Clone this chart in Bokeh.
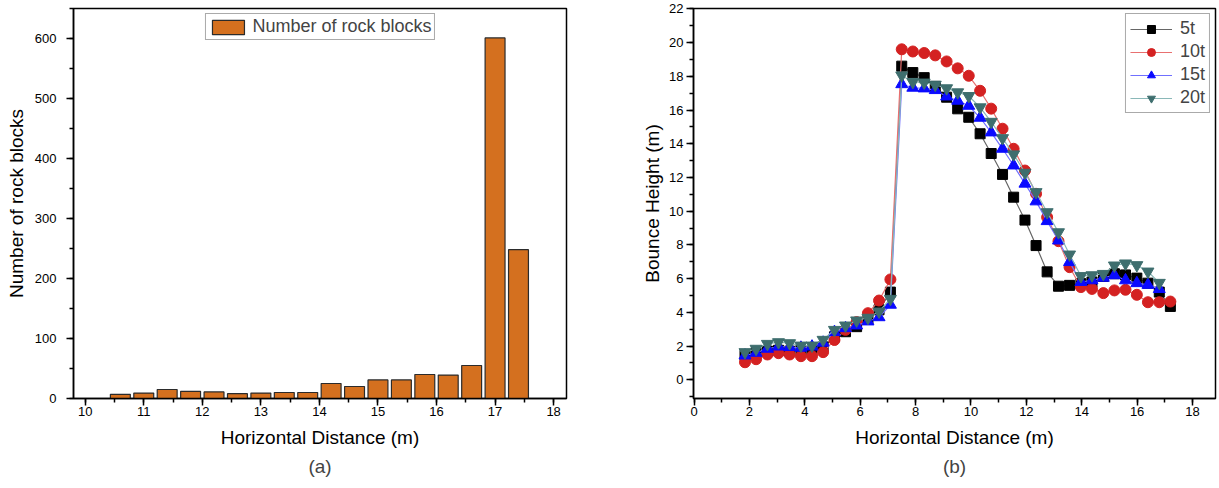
from bokeh.plotting import figure
from bokeh.layouts import row
from bokeh.models import SingleIntervalTicker, Title
from bokeh.embed import file_html
from bokeh.resources import INLINE

# ---- data (a) ----
bar_x = [10.6, 11.0, 11.4, 11.8, 12.2, 12.6, 13.0, 13.4, 13.8, 14.2, 14.6, 15.0,
         15.4, 15.8, 16.2, 16.6, 17.0, 17.4]
bar_counts = [7, 9, 15, 12, 11, 8, 9, 10, 10, 25, 20, 31, 31, 40, 39, 55, 601, 248]

# ---- data (b) ----
x_pos = [1.84, 2.24, 2.65, 3.05, 3.45, 3.86, 4.26, 4.66, 5.07, 5.47, 5.87, 6.28,
         6.68, 7.09, 7.5, 7.9, 8.31, 8.71, 9.12, 9.52, 9.92, 10.33, 10.73, 11.14,
         11.54, 11.95, 12.35, 12.75, 13.16, 13.56, 13.97, 14.37, 14.78, 15.18,
         15.58, 15.99, 16.39, 16.8, 17.2]
h_5t = [1.45, 1.6, 1.7, 1.75, 1.7, 1.75, 1.75, 1.95, 2.55, 2.85, 3.15, 3.6, 4.15, 5.2,
        18.6, 18.22, 17.92, 17.4, 16.76, 16.07, 15.57, 14.59, 13.42, 12.18, 10.83,
        9.47, 7.96, 6.4, 5.55, 5.6, 5.7, 5.8, 6.13, 6.29, 6.22, 6.03, 5.73, 5.2, 4.35]
h_10t = [1.04, 1.22, 1.5, 1.58, 1.5, 1.4, 1.4, 1.64, 2.36, 2.96, 3.42, 3.95, 4.7, 5.95,
         19.6, 19.47, 19.38, 19.24, 18.88, 18.47, 18.03, 17.14, 16.08, 14.89, 13.7,
         12.41, 11.03, 9.64, 8.22, 6.68, 5.5, 5.39, 5.14, 5.3, 5.34, 5.04, 4.6, 4.6, 4.64]
h_15t = [1.44, 1.6, 1.84, 1.97, 1.94, 1.9, 1.97, 2.2, 2.83, 3.06, 3.22, 3.46, 3.71, 4.45,
         17.53, 17.32, 17.28, 17.18, 16.8, 16.55, 16.25, 15.54, 14.67, 13.7, 12.71,
         11.63, 10.58, 9.41, 8.26, 6.98, 5.8, 5.9, 6.05, 6.2, 5.9, 5.73, 5.63, 5.38]
h_20t = [1.64, 1.84, 2.13, 2.23, 2.17, 2.03, 2.03, 2.37, 2.96, 3.22, 3.52, 3.68, 4.05, 4.8,
         18.05, 17.66, 17.63, 17.5, 17.29, 17.05, 16.83, 16.16, 15.3, 14.33, 13.37,
         12.28, 11.13, 9.94, 8.75, 7.43, 6.15, 6.2, 6.28, 6.78, 6.9, 6.8, 6.42, 5.75]

FONT = "Liberation Sans"
H = 486


def style(p, xtick, ytick):
    p.grid.visible = False
    p.outline_line_color = "black"
    p.outline_line_width = 1.5
    p.outline_line_alpha = 1
    p.xaxis.ticker = xtick
    p.yaxis.ticker = ytick
    for ax in (p.xaxis, p.yaxis):
        ax.axis_line_width = 1.5
        ax.major_tick_line_width = 1.5
        ax.minor_tick_line_width = 1.5
        ax.major_tick_in = 0
        ax.major_tick_out = 7
        ax.minor_tick_in = 0
        ax.minor_tick_out = 4
        ax.major_label_text_font = FONT
        ax.major_label_text_font_size = "13px"
        ax.major_label_text_color = "black"
        ax.axis_label_text_font = FONT
        ax.axis_label_text_font_size = "19px"
        ax.axis_label_text_font_style = "normal"
        ax.axis_label_text_color = "black"
    p.xaxis.major_label_standoff = 1
    p.xaxis.axis_label_standoff = 8


# ---- figure (a) ----
p1 = figure(width=616, height=H, x_range=(9.8, 18.22), y_range=(0, 650),
            output_backend="svg", toolbar_location=None,
            min_border_left=73, min_border_right=50, min_border_top=8,
            min_border_bottom=H - 398)
p1.vbar(x=bar_x, top=bar_counts, width=0.34, fill_color="#D4701F",
        line_color="#2b2b2b", line_width=1.2, legend_label="Number of rock blocks")
style(p1, SingleIntervalTicker(interval=1, num_minor_ticks=2),
      SingleIntervalTicker(interval=100, num_minor_ticks=2))
p1.xaxis.axis_label = "Horizontal Distance (m)"
p1.yaxis.axis_label = "Number of rock blocks"
p1.yaxis.major_label_standoff = 10
p1.yaxis.axis_label_standoff = 5
p1.legend.location = "top_center"
p1.legend.label_text_font = FONT
p1.legend.label_text_font_size = "18px"
p1.legend.glyph_width = 40
p1.legend.glyph_height = 18
p1.legend.label_height = 18
p1.legend.padding = 2
p1.legend.margin = 5
p1.legend.label_standoff = 5
p1.legend.border_line_color = "#555555"
p1.legend.border_line_width = 1
p1.add_layout(Title(text="(a)", align="center", text_font=FONT, text_font_size="19px",
                    text_font_style="normal", standoff=6), "below")

# ---- figure (b) ----
p2 = figure(width=601, height=H, x_range=(-0.02, 18.83), y_range=(-1.11, 22.02),
            output_backend="svg", toolbar_location=None,
            min_border_left=77, min_border_right=2, min_border_top=8,
            min_border_bottom=H - 398)
series = [
    ("5t", h_5t, "#000000", "#666666", "square", 10),
    ("10t", h_10t, "#D42121", "#E87070", "circle", 11),
    ("15t", h_15t, "#0A0AFF", "#7070FF", "triangle", 12),
    ("20t", h_20t, "#3E6E6E", "#8AB8B8", "inverted_triangle", 12),
]
for name, vals, mcol, lcol, marker, size in series:
    xs = x_pos[:len(vals)]
    p2.line(xs, vals, line_color=lcol, line_width=1.2, legend_label=name)
    p2.scatter(xs, vals, marker=marker, size=size, fill_color=mcol, line_color=mcol,
               legend_label=name)
style(p2, SingleIntervalTicker(interval=2, num_minor_ticks=2),
      SingleIntervalTicker(interval=2, num_minor_ticks=2))
p2.xaxis.axis_label = "Horizontal Distance (m)"
p2.yaxis.axis_label = "Bounce Height (m)"
p2.yaxis.major_label_standoff = 3
p2.yaxis.axis_label_standoff = 3
p2.legend.location = "top_right"
p2.legend.label_text_font = FONT
p2.legend.label_text_font_size = "18px"
p2.legend.glyph_width = 42
p2.legend.glyph_height = 20
p2.legend.label_height = 20
p2.legend.spacing = 2
p2.legend.padding = 4
p2.legend.margin = 5
p2.legend.label_standoff = 8
p2.legend.border_line_color = "#555555"
p2.legend.border_line_width = 1.5
p2.add_layout(Title(text="(b)", align="center", text_font=FONT, text_font_size="19px",
                    text_font_style="normal", standoff=6), "below")

layout = row(p1, p2)
open("out.html", "w").write(file_html(layout, INLINE))
